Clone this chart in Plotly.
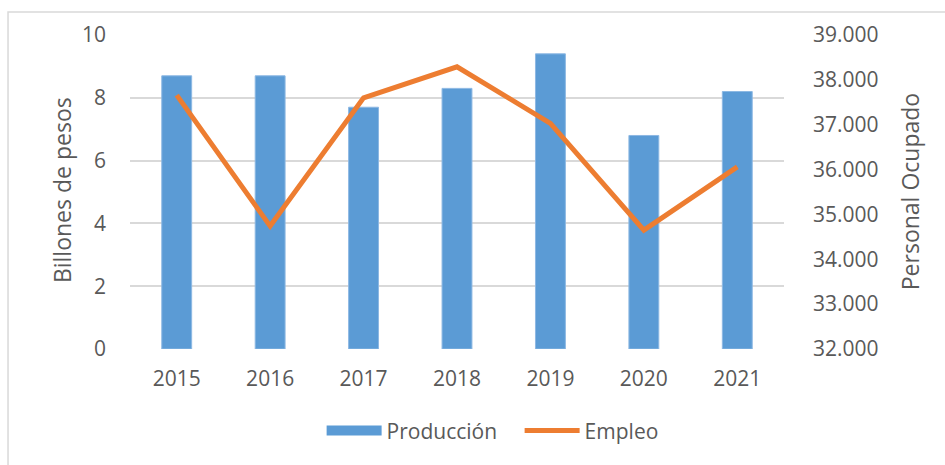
import plotly.graph_objects as go

years = ["2015", "2016", "2017", "2018", "2019", "2020", "2021"]
produccion = [8.7, 8.7, 7.7, 8.3, 9.4, 6.8, 8.2]
empleo = [37660, 34740, 37600, 38290, 37030, 34650, 36060]

FONT = "Open Sans"
TXT = "#595959"
BLUE = "#5B9BD5"
ORANGE = "#ED7D31"

fig = go.Figure()
fig.add_trace(go.Bar(
    x=years, y=produccion, name="Producción",
    marker=dict(color=BLUE, line=dict(color="#8DB8E3", width=1)),
    width=0.32, yaxis="y", showlegend=False,
))
fig.add_trace(go.Scatter(
    x=years, y=empleo, name="Empleo", mode="lines",
    line=dict(color=ORANGE, width=5), yaxis="y2", showlegend=False,
))
# legend entries
fig.add_trace(go.Scatter(
    x=[None], y=[None], name="Producción", mode="lines",
    line=dict(color=BLUE, width=20), showlegend=True,
))
fig.add_trace(go.Scatter(
    x=[None], y=[None], name="Empleo", mode="lines",
    line=dict(color=ORANGE, width=5), showlegend=True,
))

fig.update_layout(
    width=945, height=465,
    margin=dict(l=130, r=161, t=35, b=116),
    paper_bgcolor="white", plot_bgcolor="white",
    separators=",.",
    font=dict(family=FONT, size=21, color=TXT),
    showlegend=True,
    legend=dict(orientation="h", x=0.293, xanchor="left", y=-0.195, yanchor="top",
                font=dict(size=21, color=TXT), traceorder="normal", itemwidth=55,
                entrywidth=128, tracegroupgap=0),
    xaxis=dict(showgrid=False, showline=False, ticks="", ticklabelstandoff=15,
               tickfont=dict(size=21, color=TXT)),
    yaxis=dict(range=[0, 10], dtick=2, showgrid=True, gridcolor="#D9D9D9", gridwidth=1.5,
               zeroline=False, showline=False, ticks="", ticklabelstandoff=23,
               tickfont=dict(size=21, color=TXT)),
    yaxis2=dict(range=[32000, 39000], dtick=1000, overlaying="y", side="right",
                tickformat=",.0f", showgrid=False, zeroline=False, showline=False, ticks="",
                ticklabelstandoff=28, tickfont=dict(size=21, color=TXT)),
    annotations=[
        dict(text="Billones de pesos", textangle=-90, xref="paper", yref="paper",
             x=-0.104, y=0.506, xanchor="center", yanchor="middle", showarrow=False,
             font=dict(size=23, color=TXT)),
        dict(text="Personal Ocupado", textangle=-90, xref="paper", yref="paper",
             x=1.193, y=0.5, xanchor="center", yanchor="middle", showarrow=False,
             font=dict(size=23, color=TXT)),
    ],
    shapes=[
        dict(type="rect", xref="paper", yref="paper", x0=-0.1865, x1=1.4, y0=-0.4, y1=1.073,
             line=dict(color="#D9D9D9", width=1.5), fillcolor="rgba(0,0,0,0)", layer="below"),
    ],
)

fig.write_html("out.html")
